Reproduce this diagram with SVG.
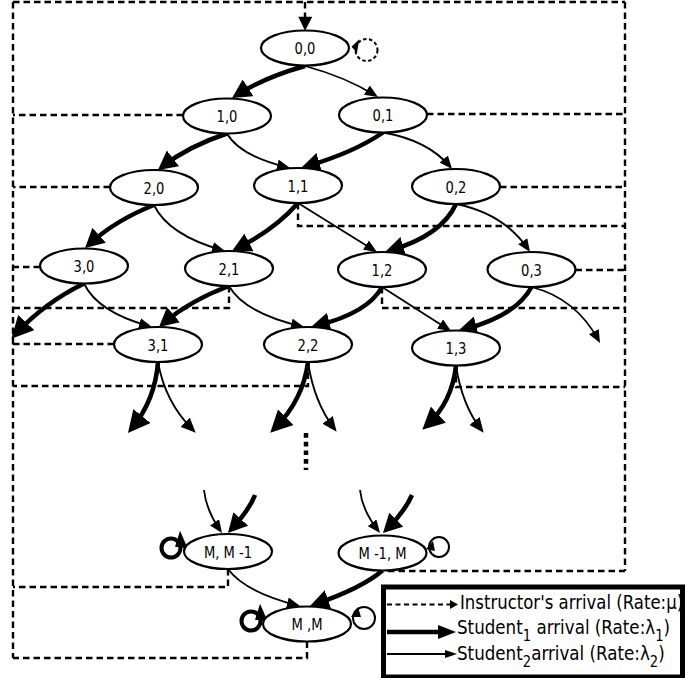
<svg xmlns="http://www.w3.org/2000/svg" width="685" height="678" viewBox="0 0 685 678">
<defs>
<style>
.nd ellipse{fill:#fff;stroke:#000;stroke-width:2.2}
.lbl{font-family:"DejaVu Sans","Liberation Sans",sans-serif;font-size:16px;text-anchor:middle;fill:#000}
.leg{font-family:"DejaVu Sans","Liberation Sans",sans-serif;font-size:19px;fill:#000}
.k{fill:none;stroke:#000;stroke-width:4.5;marker-end:url(#mk)}
.kb{fill:none;stroke:#000;stroke-width:4.5;marker-end:url(#mkb)}
.t{fill:none;stroke:#000;stroke-width:1.8;marker-end:url(#mt)}
.tb{fill:none;stroke:#000;stroke-width:1.8;marker-end:url(#mtb)}
.d{fill:none;stroke:#000;stroke-width:2.4;stroke-dasharray:6.5 4}
</style>
<marker id="mk" markerUnits="userSpaceOnUse" markerWidth="19" markerHeight="20" refX="13" refY="10" orient="auto"><path d="M0,0 L19,10 L0,20 z"/></marker>
<marker id="mkb" markerUnits="userSpaceOnUse" markerWidth="22" markerHeight="22" refX="15" refY="11" orient="auto"><path d="M0,0 L22,11 L0,22 z"/></marker>
<marker id="mt" markerUnits="userSpaceOnUse" markerWidth="13" markerHeight="11" refX="10" refY="5.5" orient="auto"><path d="M0,0 L13,5.5 L0,11 z"/></marker>
<marker id="mtb" markerUnits="userSpaceOnUse" markerWidth="15" markerHeight="13" refX="11" refY="6.5" orient="auto"><path d="M0,0 L15,6.5 L0,13 z"/></marker>
</defs>
<rect width="685" height="678" fill="#fff"/>
<g id="connectors">
<g id="instructor">
<path class="d" d="M13,2 H625"/>
<path class="d" d="M13,2 V658"/>
<path class="d" d="M625,2 V571"/>
<path class="d" d="M305,2 V18"/>
<polygon points="298.3,16.7 312.3,16.7 305,30.7"/>
<path class="d" d="M183,115 H13"/>
<path class="d" d="M427,114 H625"/>
<path class="d" d="M110,187 H13"/>
<path class="d" d="M500,187 H625"/>
<path class="d" d="M298,203 V226 H625"/>
<path class="d" d="M40,267 H13"/>
<path class="d" d="M575.5,270 H625"/>
<path class="d" d="M229,286 V308 H13"/>
<path class="d" d="M382,287 V308 H625"/>
<path class="d" d="M114,344 H13"/>
<path class="d" d="M308,362 V386 H13"/>
<path class="d" d="M456,365.5 V387 H625"/>
<path class="d" d="M228,569 V587 H13"/>
<path class="d" d="M388,571 H625"/>
<path class="d" d="M307,641.5 V658 H13"/>
<circle cx="366.5" cy="50" r="11" fill="none" stroke="#000" stroke-width="2" stroke-dasharray="3.5 2.5"/>
<polygon points="351.5,46.7 359.3,39.3 357,52.7"/>
</g>
<g id="student1">
<path class="k" d="M305,66 Q264.9,77.2 237.1,94.8"/>
<path class="k" d="M227,133.5 Q189,146 162.7,166.3"/>
<path class="k" d="M383,132.5 Q354.3,152.25 306.8,166.3"/>
<path class="k" d="M154,205 Q116,220 89.5,244"/>
<path class="k" d="M298,203 Q274.9,229.4 237.4,248.3"/>
<path class="k" d="M456,204 Q441.8,235.2 390.8,250.3"/>
<path class="kb" d="M84,283.5 Q44.4,302.9 16.1,333.6"/>
<path class="k" d="M229,286 Q190.5,300.35 163.6,323.1"/>
<path class="k" d="M382,287 Q367.8,313 316.8,325.6"/>
<path class="k" d="M531.5,287 Q516.4,315.6 463.8,329.5"/>
<path class="kb" d="M158,362 Q155,400 132.4,427.6"/>
<path class="kb" d="M308,362 Q303,400 275.2,427.8"/>
<path class="kb" d="M456,365.5 Q452,402 427.4,424.9"/>
<path class="k" d="M255,495 Q249,510 232,528.6"/>
<path class="k" d="M412,495 Q405,511 387.2,528.8"/>
<path class="k" d="M382.5,570.5 Q362,588 315.7,604"/>
<circle cx="171" cy="548" r="9.5" fill="none" stroke="#000" stroke-width="4"/>
<polygon points="180,530.7 187.7,548.3 175,546.7"/>
<circle cx="251" cy="621" r="9.5" fill="none" stroke="#000" stroke-width="4"/>
<polygon points="260,603.7 267.7,621.3 255,619.7"/>
</g>
<g id="student2">
<path class="t" d="M305,66 Q345.2,76.9 375.4,95.4"/>
<path class="t" d="M227,133.5 Q239.6,155.75 287.1,167.3"/>
<path class="t" d="M383,132.5 Q427.85,140.2 450.1,166.7"/>
<path class="t" d="M154,205 Q168.2,234.9 222.1,250.2"/>
<path class="t" d="M298,203 L374.4,250.4"/>
<path class="t" d="M456,204 Q504.1,213.6 528.3,249.5"/>
<path class="t" d="M84,283.5 Q97.6,312 149.1,326.2"/>
<path class="t" d="M229,286 Q244,312.65 301.1,326.3"/>
<path class="t" d="M382,287 L448.5,329.4"/>
<path class="t" d="M531.5,287 Q575.85,298.2 598.6,340.4"/>
<path class="tb" d="M158,362 Q165,402 192.9,429.9"/>
<path class="tb" d="M308,362 Q314,402 334.2,428.6"/>
<path class="tb" d="M456,365.5 Q462,405 481.2,429.6"/>
<path class="t" d="M204,490 Q206,510 220.3,530.5"/>
<path class="t" d="M360,490 Q362,510 378.2,530.6"/>
<path class="t" d="M228,569 Q245,592 297.1,605.3"/>
<circle cx="439" cy="547" r="10" fill="none" stroke="#000" stroke-width="2"/>
<polygon points="426,549 433,541 435,551"/>
<circle cx="364" cy="618" r="11" fill="none" stroke="#000" stroke-width="2"/>
<polygon points="351,617 358,607 361,617"/>
</g>
<path d="M306,433 V470" fill="none" stroke="#000" stroke-width="4.5" stroke-dasharray="4.7 4"/>
</g>
<g id="n00" class="nd"><ellipse cx="305" cy="48" rx="44" ry="17.5"/><text class="lbl" transform="translate(305,54) scale(0.82,1)">0,0</text></g>
<g id="n10" class="nd"><ellipse cx="227" cy="116" rx="44" ry="17.5"/><text class="lbl" transform="translate(227,122) scale(0.82,1)">1,0</text></g>
<g id="n01" class="nd"><ellipse cx="383" cy="115" rx="44" ry="17.5"/><text class="lbl" transform="translate(383,121) scale(0.82,1)">0,1</text></g>
<g id="n20" class="nd"><ellipse cx="154" cy="187.5" rx="44" ry="17.5"/><text class="lbl" transform="translate(154,193.5) scale(0.82,1)">2,0</text></g>
<g id="n11" class="nd"><ellipse cx="298" cy="185.5" rx="44" ry="17.5"/><text class="lbl" transform="translate(298,191.5) scale(0.82,1)">1,1</text></g>
<g id="n02" class="nd"><ellipse cx="456" cy="186.5" rx="44" ry="17.5"/><text class="lbl" transform="translate(456,192.5) scale(0.82,1)">0,2</text></g>
<g id="n30" class="nd"><ellipse cx="84" cy="266" rx="44" ry="17.5"/><text class="lbl" transform="translate(84,272) scale(0.82,1)">3,0</text></g>
<g id="n21" class="nd"><ellipse cx="229" cy="268.5" rx="44" ry="17.5"/><text class="lbl" transform="translate(229,274.5) scale(0.82,1)">2,1</text></g>
<g id="n12" class="nd"><ellipse cx="382" cy="269.5" rx="44" ry="17.5"/><text class="lbl" transform="translate(382,275.5) scale(0.82,1)">1,2</text></g>
<g id="n03" class="nd"><ellipse cx="531.5" cy="269.5" rx="44" ry="17.5"/><text class="lbl" transform="translate(531.5,275.5) scale(0.82,1)">0,3</text></g>
<g id="n31" class="nd"><ellipse cx="158" cy="344.5" rx="44" ry="17.5"/><text class="lbl" transform="translate(158,350.5) scale(0.82,1)">3,1</text></g>
<g id="n22" class="nd"><ellipse cx="308" cy="344.5" rx="44" ry="17.5"/><text class="lbl" transform="translate(308,350.5) scale(0.82,1)">2,2</text></g>
<g id="n13" class="nd"><ellipse cx="456" cy="348" rx="44" ry="17.5"/><text class="lbl" transform="translate(456,354) scale(0.82,1)">1,3</text></g>
<g id="nMM1" class="nd"><ellipse cx="228" cy="551.5" rx="44" ry="17.5"/><text class="lbl" transform="translate(228,557.5) scale(0.82,1)">M, M -1</text></g>
<g id="nM1M" class="nd"><ellipse cx="382.5" cy="553" rx="44" ry="17.5"/><text class="lbl" transform="translate(382.5,559) scale(0.82,1)">M -1, M</text></g>
<g id="nMM" class="nd"><ellipse cx="307" cy="624" rx="44" ry="17.5"/><text class="lbl" transform="translate(307,630) scale(0.82,1)">M ,M</text></g>
<g id="legend">
<rect x="383.5" y="587" width="299" height="90" fill="#fff" stroke="#000" stroke-width="5"/>
<path d="M387,604.5 H451" fill="none" stroke="#000" stroke-width="2" stroke-dasharray="5 3.5"/>
<polygon points="458,604.5 450,600 450,609"/>
<path d="M387,632 H440" fill="none" stroke="#000" stroke-width="4.5"/>
<polygon points="438,625 456,632 438,639"/>
<path d="M387,654 H447" fill="none" stroke="#000" stroke-width="1.8"/>
<polygon points="445,650 457,654 445,658"/>
<text class="leg" transform="translate(460,609) scale(0.87,1)">Instructor's arrival (Rate:μ)</text>
<text class="leg" transform="translate(457,634) scale(0.88,1)">Student<tspan font-size="15" dy="7">1</tspan><tspan dy="-7"> arrival (Rate:λ</tspan><tspan font-size="15" dy="7">1</tspan><tspan dy="-7">)</tspan></text>
<text class="leg" transform="translate(457,660) scale(0.88,1)">Student<tspan font-size="15" dy="7">2</tspan><tspan dy="-7">arrival (Rate:λ</tspan><tspan font-size="15" dy="7">2</tspan><tspan dy="-7">)</tspan></text>
</g>
</svg>
